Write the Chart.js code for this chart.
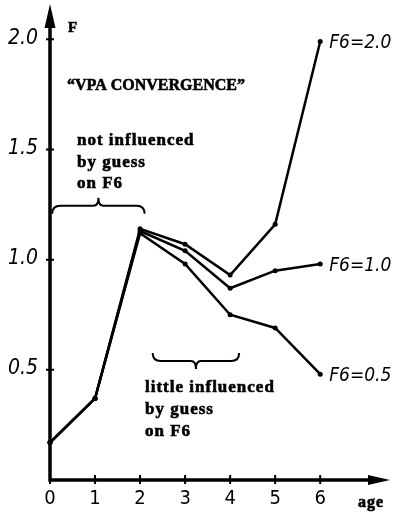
<!DOCTYPE html>
<html>
<head>
<meta charset="utf-8">
<script src="https://cdn.jsdelivr.net/npm/chart.js"></script>
<style>
  html, body { margin: 0; padding: 0; background: #fff; }
  #wrap { position: relative; width: 400px; height: 514px; }
</style>
</head>
<body>
<div id="wrap"><canvas id="c"></canvas></div>
<script>
// data
const ages = [0, 1, 2, 3, 4, 5, 6];
const seriesLabels = ["F6=2.0", "F6=1.0", "F6=0.5"];
const fF6High = [0.17, 0.37, 1.14, 1.07, 0.93, 1.16, 1.99];
const fF6Mid = [0.17, 0.37, 1.13, 1.04, 0.87, 0.95, 0.98];
const fF6Low = [0.17, 0.37, 1.12, 0.98, 0.75, 0.69, 0.48];
const yTicks = [0.5, 1.0, 1.5, 2.0];
const yTickLabels = ["0.5", "1.0", "1.5", "2.0"];
const xTicks = [0, 1, 2, 3, 4, 5, 6];

const INK = "#000";
const handFont = '"DejaVu Sans Condensed", "DejaVu Sans", sans-serif';
const printFont = '"Liberation Serif", "Times New Roman", serif';

function toPoints(vals) {
  return ages.map((a, i) => ({ x: a, y: vals[i] }));
}

function lineSet(label, vals) {
  return {
    label: label,
    data: toPoints(vals),
    borderColor: INK,
    backgroundColor: INK,
    borderWidth: 2.5,
    pointRadius: 2.5,
    pointBorderWidth: 0,
    tension: 0,
    clip: false,
  };
}

// horizontal curly brace in data units; dir -1 = tip up, 1 = tip down
function brace(ctx, xs, ys, x0, x1, yv, dir) {
  const a = xs.getPixelForValue(x0);
  const b = xs.getPixelForValue(x1);
  const y = ys.getPixelForValue(yv);
  const m = (a + b) / 2;
  const h = 8;
  ctx.beginPath();
  ctx.moveTo(a, y - dir * h);
  ctx.quadraticCurveTo(a, y, a + 8, y);
  ctx.lineTo(m - 5, y);
  ctx.quadraticCurveTo(m, y, m, y + dir * h);
  ctx.quadraticCurveTo(m, y, m + 5, y);
  ctx.lineTo(b - 8, y);
  ctx.quadraticCurveTo(b, y, b, y - dir * h);
  ctx.stroke();
}

// heavy printed text, slightly thickened like the scan
function inked(ctx, text, x, y) {
  ctx.fillText(text, x, y);
  ctx.strokeText(text, x, y);
}

const sketchAxes = {
  id: "sketchAxes",
  beforeDatasetsDraw(chart) {
    const ctx = chart.ctx;
    const xs = chart.scales.x, ys = chart.scales.y;
    const x0 = xs.getPixelForValue(0), y0 = ys.getPixelForValue(0);
    const top = chart.chartArea.top, right = chart.chartArea.right;
    ctx.save();
    ctx.strokeStyle = INK;
    ctx.fillStyle = INK;
    ctx.lineWidth = 3.5;
    ctx.lineCap = "butt";
    ctx.beginPath();
    ctx.moveTo(x0, y0 + 1.5);
    ctx.lineTo(x0, top + 15);
    ctx.moveTo(x0 - 1.5, y0);
    ctx.lineTo(right - 15, y0);
    ctx.stroke();
    // arrow heads
    ctx.beginPath();
    ctx.moveTo(x0, top);
    ctx.lineTo(x0 - 5.5, top + 24);
    ctx.lineTo(x0 + 5.5, top + 24);
    ctx.closePath();
    ctx.fill();
    ctx.beginPath();
    ctx.moveTo(right, y0);
    ctx.lineTo(right - 22, y0 - 5);
    ctx.lineTo(right - 22, y0 + 5);
    ctx.closePath();
    ctx.fill();
    // tick marks
    ctx.lineWidth = 2;
    ctx.beginPath();
    yTicks.forEach((v) => {
      const p = ys.getPixelForValue(v);
      ctx.moveTo(x0 - 4, p);
      ctx.lineTo(x0 + 4, p);
    });
    xTicks.forEach((v) => {
      const p = xs.getPixelForValue(v);
      ctx.moveTo(p, y0 - 5);
      ctx.lineTo(p, y0 + 4);
    });
    ctx.stroke();
    // tick labels
    ctx.font = "italic 21px " + handFont;
    ctx.textAlign = "right";
    ctx.textBaseline = "middle";
    yTicks.forEach((v, i) => {
      ctx.fillText(yTickLabels[i], x0 - 12, ys.getPixelForValue(v) - 1);
    });
    ctx.font = "20px " + handFont;
    ctx.textAlign = "center";
    xTicks.forEach((v) => {
      ctx.fillText(String(v), xs.getPixelForValue(v), y0 + 19);
    });
    ctx.restore();
  },
  afterDraw(chart) {
    const ctx = chart.ctx;
    const xs = chart.scales.x, ys = chart.scales.y;
    ctx.save();
    ctx.fillStyle = INK;
    ctx.strokeStyle = INK;
    ctx.lineWidth = 0.6;
    ctx.textBaseline = "middle";
    ctx.textAlign = "left";

    // printed annotations
    ctx.font = "bold 15px " + printFont;
    inked(ctx, "F", 68, 28);
    ctx.font = "bold 16px " + printFont;
    inked(ctx, "\u201CVPA CONVERGENCE\u201D", 67, 86);
    ctx.font = "bold 17px " + printFont;
    ctx.letterSpacing = "1px";
    inked(ctx, "not influenced", 77, 141);
    inked(ctx, "by guess", 77, 163);
    inked(ctx, "on F6", 77, 184);
    inked(ctx, "little influenced", 145, 388);
    inked(ctx, "by guess", 145, 410);
    inked(ctx, "on F6", 145, 432);
    ctx.font = "bold 16px " + printFont;
    inked(ctx, "age", 358, 503);
    ctx.letterSpacing = "0px";

    // braces
    ctx.lineWidth = 2;
    brace(ctx, xs, ys, 0.05, 2.1, 1.245, -1);
    brace(ctx, xs, ys, 2.28, 4.2, 0.54, 1);

    // series end labels
    ctx.font = "italic 19px " + handFont;
    const last = ages.length - 1;
    [fF6High, fF6Mid, fF6Low].forEach((vals, i) => {
      ctx.fillText(seriesLabels[i],
        xs.getPixelForValue(ages[last]) + 9,
        ys.getPixelForValue(vals[last]) + 2);
    });
    ctx.restore();
  },
};

new Chart(document.getElementById("c"), {
  type: "line",
  data: {
    datasets: [
      lineSet(seriesLabels[0], fF6High),
      lineSet(seriesLabels[1], fF6Mid),
      lineSet(seriesLabels[2], fF6Low),
    ],
  },
  options: {
    responsive: true,
    maintainAspectRatio: false,
    animation: false,
    layout: { padding: { left: 50, right: 10, top: 3, bottom: 34 } },
    plugins: {
      legend: { display: false },
      tooltip: { enabled: false },
    },
    scales: {
      x: { type: "linear", min: 0, max: 7.55, display: false },
      y: { type: "linear", min: 0, max: 2.16, display: false },
    },
  },
  plugins: [sketchAxes],
});
</script>
</body>
</html>
